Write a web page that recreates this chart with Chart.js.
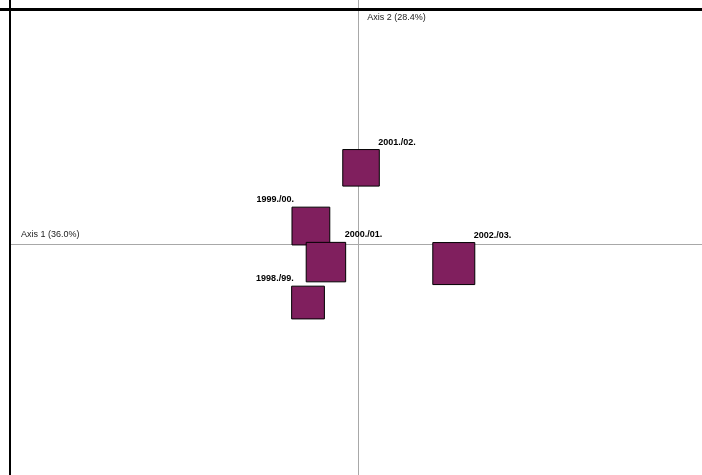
<!DOCTYPE html>
<html lang="en">
<head>
<meta charset="UTF-8">
<title>Axis 1 x Axis 2</title>
<script src="https://cdn.jsdelivr.net/npm/chart.js"></script>
<style>
  body { margin: 0; background: #ffffff; }
  #grafico { display: block; }
</style>
</head>
<body>
<canvas id="grafico" width="702" height="475"></canvas>
<script>
    // dados (coordenadas nos eixos 1 e 2)
    const temporadas = ['1998./99.', '1999./00.', '2000./01.', '2001./02.', '2002./03.'];
    const eixo1 = [-0.140, -0.132, -0.090, 0.008, 0.267];
    const eixo2 = [-0.242, 0.072, -0.076, 0.311, -0.082];
    const peso = [0.78, 0.90, 0.94, 0.87, 1.00];
    const ladoRotulo = ['left', 'left', 'right', 'right', 'right'];
    const tituloEixo1 = 'Axis 1 (36.0%)';
    const tituloEixo2 = 'Axis 2 (28.4%)';

    const raioMax = 29.7;

    const pontos = temporadas.map((t, i) => ({ x: eixo1[i], y: eixo2[i] }));

    // linhas dos eixos + moldura + titulos
    const pluginEixos = {
        id: 'eixos',
        beforeDatasetsDraw(chart) {
            const ctx = chart.ctx;
            const x0 = chart.scales.x.getPixelForValue(0);
            const y0 = chart.scales.y.getPixelForValue(0);
            ctx.save();
            ctx.strokeStyle = '#a8a8a8';
            ctx.lineWidth = 1;
            ctx.beginPath();
            ctx.moveTo(Math.round(x0) + 0.5, 0);
            ctx.lineTo(Math.round(x0) + 0.5, chart.height);
            ctx.moveTo(10, Math.round(y0) + 0.5);
            ctx.lineTo(chart.width, Math.round(y0) + 0.5);
            ctx.stroke();

            ctx.fillStyle = '#222';
            ctx.font = '9px Arial, "Liberation Sans", sans-serif';
            ctx.textBaseline = 'middle';
            ctx.textAlign = 'left';
            ctx.fillText(tituloEixo1, 21, y0 - 9.5);
            ctx.fillText(tituloEixo2, x0 + 9, 17.5);

            // moldura preta (topo e esquerda)
            ctx.fillStyle = '#000';
            ctx.fillRect(0, 8, chart.width, 3);
            ctx.fillRect(9, 0, 2, chart.height);
            ctx.restore();
        },
        afterDatasetsDraw(chart) {
            const ctx = chart.ctx;
            const meta = chart.getDatasetMeta(0);
            ctx.save();
            ctx.fillStyle = '#000';
            ctx.font = 'bold 9px Arial, "Liberation Sans", sans-serif';
            ctx.textBaseline = 'middle';
            meta.data.forEach((el, i) => {
                const meio = Math.SQRT1_2 * raioMax * peso[i];
                const topo = el.y - meio;
                if (ladoRotulo[i] === 'left') {
                    ctx.textAlign = 'right';
                    ctx.fillText(temporadas[i], el.x - meio + 2, topo - 7.5);
                } else {
                    ctx.textAlign = 'left';
                    ctx.fillText(temporadas[i], el.x + meio - 1, topo - 7.5);
                }
            });
            ctx.restore();
        }
    };

    new Chart(document.getElementById('grafico'), {
        type: 'scatter',
        data: {
            labels: temporadas,
            datasets: [{
                label: 'Temporadas',
                data: pontos,
                pointStyle: 'rect',
                pointRadius: peso.map(p => raioMax * p),
                pointHoverRadius: peso.map(p => raioMax * p),
                backgroundColor: '#801f5e',
                borderColor: '#000000',
                borderWidth: 1,
                clip: false
            }]
        },
        options: {
            responsive: false,
            animation: false,
            devicePixelRatio: 1,
            layout: { autoPadding: false, padding: 0 },
            plugins: {
                legend: { display: false },
                tooltip: { enabled: false }
            },
            scales: {
                x: { display: false, min: -1, max: 0.96 },
                y: { display: false, min: -0.95, max: 1 }
            }
        },
        plugins: [pluginEixos]
    });
</script>
</body>
</html>
